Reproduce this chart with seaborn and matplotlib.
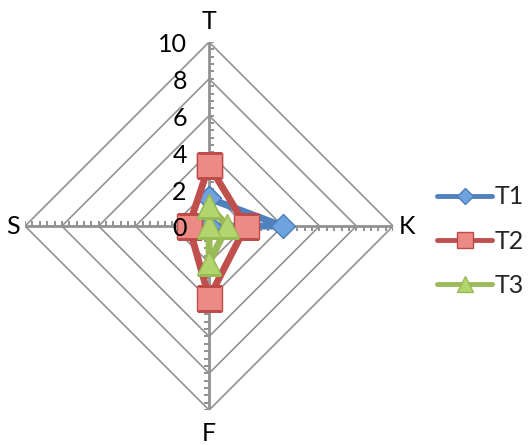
import numpy as np
import pandas as pd
import matplotlib
matplotlib.use('Agg')
import matplotlib.pyplot as plt
import seaborn as sns

# data
categories = ['T', 'K', 'F', 'S']
t1_values = [1.5, 4.0, 0.0, 0.0]
t2_values = [3.3, 2.0, 3.9, 1.1]
t3_values = [1.1, 1.0, 2.0, 0.0]
series_names = ['T1', 'T2', 'T3']
grid_levels = [2, 4, 6, 8, 10]

sns.set_style('white')
plt.rcParams['font.family'] = ['Lato', 'DejaVu Sans']

# angles: T on top, clockwise
angles = np.linspace(0, 2 * np.pi, len(categories), endpoint=False)
closed_angles = np.append(angles, 2 * np.pi)

fig = plt.figure(figsize=(5.28, 4.45), dpi=100)
ax = fig.add_axes([0.0475, 0.0785, 0.697, 0.827], projection='polar')
ax.set_theta_offset(np.pi / 2)
ax.set_theta_direction(-1)
ax.set_ylim(0, 10)
ax.grid(False)
ax.set_xticks([])
ax.set_yticks([])
ax.spines['polar'].set_visible(False)
ax.patch.set_alpha(0)

grid_color = '#929292'
# diamond gridlines
for lvl in grid_levels:
    ax.plot(closed_angles, [lvl] * len(closed_angles), color=grid_color, lw=1.2, zorder=1)
# spokes
for a in angles:
    ax.plot([a, a], [0, 10], color=grid_color, lw=2.0, zorder=1)

# minor ticks along each spoke (0.4 steps), pointing clockwise
minor = np.arange(0.4, 10.01, 0.4)
tick_markers = [1, 3, 0, 2]
for a, m in zip(angles, tick_markers):
    ax.plot([a] * len(minor), minor, ls='none', marker=m, ms=3.8, mew=1.4,
            color=grid_color, zorder=1)

# radial value labels on the T spoke
for lvl in [0] + grid_levels:
    ax.annotate(str(lvl), xy=(0, lvl), xytext=(-16, -2), textcoords='offset points',
                ha='right', va='center', fontsize=18, color='black', zorder=10)

# category labels
label_r = [11.1, 10.75, 11.25, 10.65]
for a, name, r in zip(angles, categories, label_r):
    ax.text(a, r, name, ha='center', va='center', fontsize=18, color='black',
            clip_on=False, zorder=10)

styles = {
    'T1': dict(color='#4f81bd', marker='D', ms=12, mfc='#6fa3e0', mec='#4a7ebb'),
    'T2': dict(color='#c0504d', marker='s', ms=18, mfc='#ec8a86', mec='#be4b48'),
    'T3': dict(color='#9bbb59', marker='^', ms=17, mfc='#b3d56d', mec='#98b954'),
}
values = {'T1': t1_values, 'T2': t2_values, 'T3': t3_values}

for i, name in enumerate(series_names):
    vals = values[name] + values[name][:1]
    df = pd.DataFrame({'theta': closed_angles, 'r': vals})
    st = styles[name]
    sns.lineplot(data=df, x='theta', y='r', ax=ax, sort=False, estimator=None,
                 color=st['color'], lw=5, marker=st['marker'], markersize=st['ms'],
                 markerfacecolor=st['mfc'], markeredgecolor=st['mec'],
                 markeredgewidth=1.0, label=name, zorder=3 + i, legend=False)

ax.set_xlabel('')
ax.set_ylabel('')
ax.set_ylim(0, 10)

handles, labels = ax.get_legend_handles_labels()
leg = fig.legend(handles, labels, loc='center left', bbox_to_anchor=(0.828, 0.458),
                 frameon=False, fontsize=18, handlelength=2.2, handletextpad=0.1,
                 labelspacing=0.85, borderaxespad=0, borderpad=0, markerscale=0.65)
for h in leg.legend_handles:
    h.set_linewidth(3.5)

fig.savefig('out.png', dpi=100)
